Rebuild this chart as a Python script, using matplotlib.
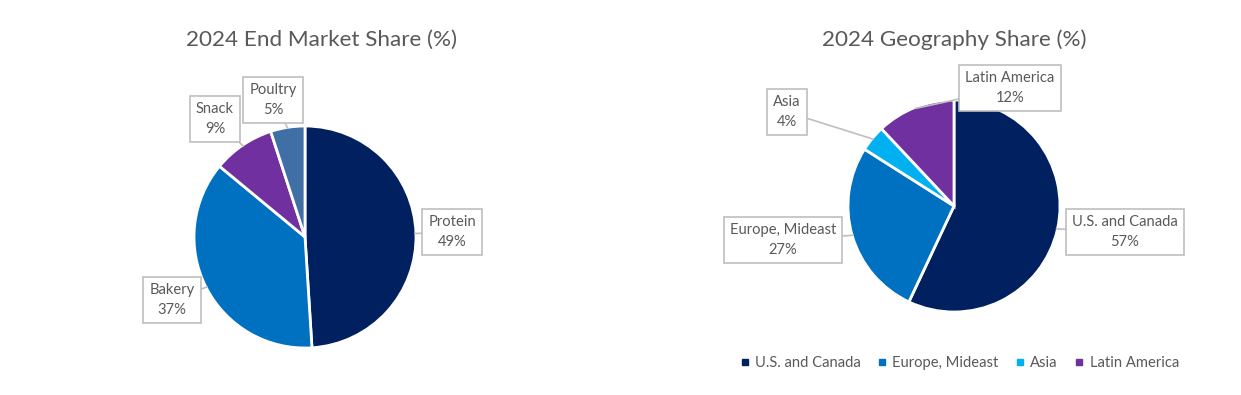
import matplotlib.pyplot as plt
from matplotlib.lines import Line2D
import numpy as np

plt.rcParams['font.family'] = ['Lato', 'DejaVu Sans']

W, H = 1241, 395

market_labels = ['Protein', 'Bakery', 'Snack', 'Poultry']
market_values = [49, 37, 9, 5]
market_colors = ['#002060', '#0070C0', '#7030A0', '#3F6FA5']

geo_labels = ['U.S. and Canada', 'Europe, Mideast', 'Asia', 'Latin America']
geo_values = [57, 27, 4, 12]
geo_colors = ['#002060', '#0070C0', '#00B0F0', '#7030A0']

text_color = '#595959'
box_edge = '#BFBFBF'

fig = plt.figure(figsize=(W / 100, H / 100), dpi=100)


def make_ax(cx, cy, r):
    return fig.add_axes([(cx - r) / W, (H - cy - r) / H, 2 * r / W, 2 * r / H])


def draw_pie(ax, cx, cy, r, labels, values, colors, box_px, title, title_x):
    wedges, _ = ax.pie(values, colors=colors, startangle=90, counterclock=False,
                       wedgeprops=dict(edgecolor='white', linewidth=2))
    ax.set_xlim(-1, 1)
    ax.set_ylim(-1, 1)
    for w, lab, val, (bx, by) in zip(wedges, labels, values, box_px):
        ang = np.deg2rad((w.theta1 + w.theta2) / 2)
        tx = (bx - cx) / r
        ty = (cy - by) / r
        ax.annotate(f'{lab}\n{val}%', xy=(np.cos(ang) * 0.99, np.sin(ang) * 0.99),
                    xytext=(tx, ty), ha='center', va='center', ma='center',
                    fontsize=10.6, color=text_color, linespacing=1.55,
                    bbox=dict(boxstyle='square,pad=0.4', fc='white', ec=box_edge, lw=1.2),
                    arrowprops=dict(arrowstyle='-', color=box_edge, lw=1.2, shrinkA=0, shrinkB=0))
    fig.text(title_x / W, 1 - 40 / H, title, ha='center', va='center',
             fontsize=16.2, color=text_color)


ax1 = make_ax(305, 237, 111)
draw_pie(ax1, 305, 237, 111, market_labels, market_values, market_colors,
         [(452, 232), (172, 300), (215, 119), (273, 100)],
         '2024 End Market Share (%)', 321)

ax2 = make_ax(954, 206, 106)
draw_pie(ax2, 954, 206, 106, geo_labels, geo_values, geo_colors,
         [(1125, 232), (783, 240), (787, 112), (1010, 88)],
         '2024 Geography Share (%)', 954)

handles = [Line2D([], [], marker='s', linestyle='none', markersize=5,
                  markerfacecolor=c, markeredgecolor=c) for c in geo_colors]
fig.legend(handles, geo_labels, loc='center', bbox_to_anchor=(958 / W, 1 - 363 / H),
           ncol=4, frameon=False, fontsize=10.6, labelcolor=text_color,
           handletextpad=0.2, columnspacing=0.95, handlelength=1.0)

fig.savefig('out.png', dpi=100, facecolor='white')
